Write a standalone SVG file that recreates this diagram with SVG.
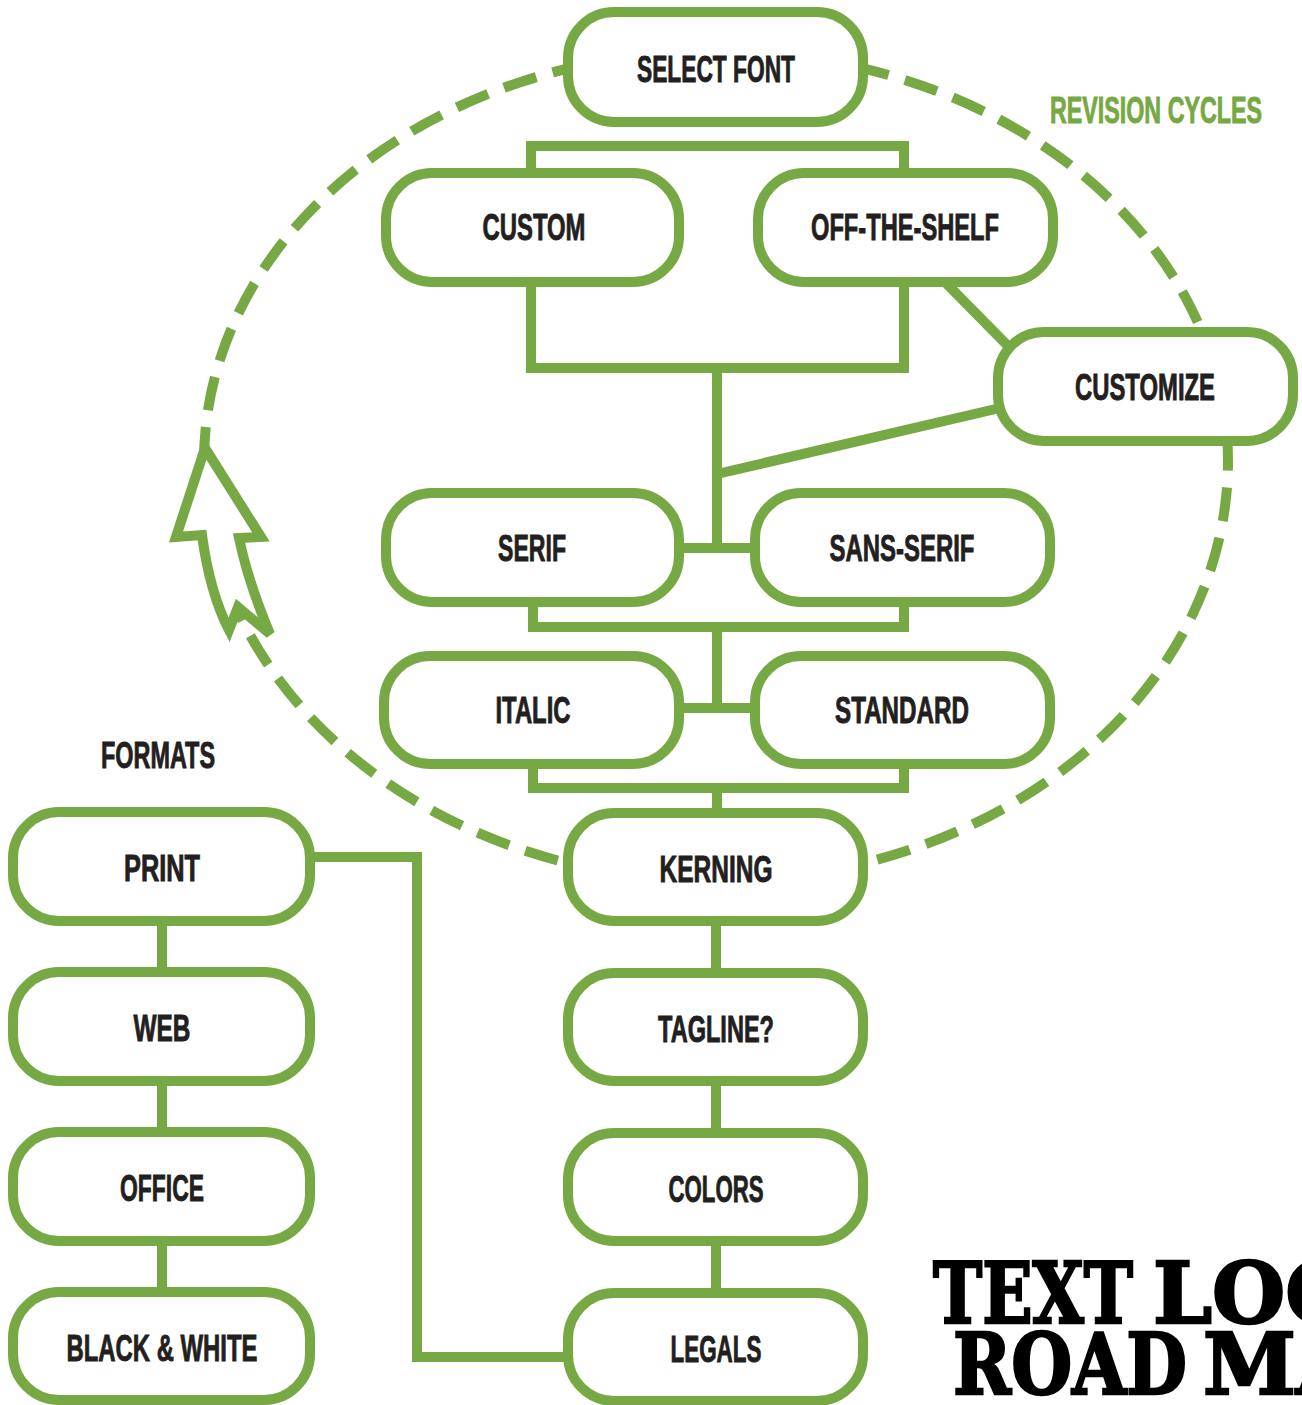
<svg xmlns="http://www.w3.org/2000/svg" width="1302" height="1405" viewBox="0 0 1302 1405">
<style>
.box{fill:#fff;stroke:#76a844;stroke-width:10}
.ln{fill:none;stroke:#76a844;stroke-width:10;stroke-linejoin:miter;stroke-linecap:butt}
.dash{fill:none;stroke:#76a844;stroke-width:10;stroke-dasharray:34 17}
.t{font-family:"Liberation Sans Narrow","Liberation Sans",Arial,sans-serif;font-weight:bold;font-size:37px;fill:#231f20;stroke:#231f20;stroke-width:0.9;text-anchor:middle}
.lbl{font-family:"Liberation Sans Narrow","Liberation Sans",Arial,sans-serif;font-weight:bold;font-size:36px;stroke-width:0.9}
.title{font-family:"DejaVu Serif","Liberation Serif",serif;font-weight:bold;font-size:84px;fill:#000;stroke:#000;stroke-width:2.5}
</style>
<rect width="1302" height="1405" fill="#fff"/>
<g id="revision-cycle">
<path class="dash" d="M 204 461 A 512 410 0 0 1 1228 461 A 512 420 0 0 1 204 461"/>
<path class="box" d="M 205 448 L 176 537 L 202 535 C 207 572 215 603 229 630 L 238 607 L 270 634 C 257 603 246 572 239 538 L 261 537 Z"/>
</g>
<g id="connectors">
<path class="ln" d="M 531 173 V 146 H 904 V 173"/>
<path class="ln" d="M 531 282 V 368 H 904 V 282"/>
<path class="ln" d="M 717 368 V 548"/>
<path class="ln" d="M 679 548 H 755"/>
<path class="ln" d="M 942 279 L 1010 348"/>
<path class="ln" d="M 717 474 L 1000 408"/>
<path class="ln" d="M 533 602 V 627 H 904 V 602"/>
<path class="ln" d="M 717 627 V 708"/>
<path class="ln" d="M 679 708 H 755"/>
<path class="ln" d="M 533 764 V 788 H 904 V 764"/>
<path class="ln" d="M 717 788 V 813"/>
<path class="ln" d="M 716 921 V 973 M 716 1081 V 1133 M 716 1241 V 1293"/>
<path class="ln" d="M 162 921 V 972 M 162 1081 V 1132 M 162 1241 V 1292"/>
<path class="ln" d="M 308 857 H 417 V 1357 H 568"/>
</g>
<g id="select-font"><rect class="box" x="568" y="12" width="295" height="110" rx="46"/><text class="t" x="716" y="82" textLength="158" lengthAdjust="spacingAndGlyphs">SELECT FONT</text></g>
<g id="custom"><rect class="box" x="386" y="173" width="293" height="109" rx="46"/><text class="t" x="534" y="240" textLength="103" lengthAdjust="spacingAndGlyphs">CUSTOM</text></g>
<g id="off-the-shelf"><rect class="box" x="758" y="173" width="295" height="109" rx="46"/><text class="t" x="905" y="240" textLength="188" lengthAdjust="spacingAndGlyphs">OFF-THE-SHELF</text></g>
<g id="customize"><rect class="box" x="998" y="332" width="295" height="109" rx="46"/><text class="t" x="1145" y="400" textLength="140" lengthAdjust="spacingAndGlyphs">CUSTOMIZE</text></g>
<g id="serif"><rect class="box" x="386" y="493" width="293" height="109" rx="46"/><text class="t" x="532" y="561" textLength="68" lengthAdjust="spacingAndGlyphs">SERIF</text></g>
<g id="sans-serif"><rect class="box" x="755" y="493" width="295" height="109" rx="46"/><text class="t" x="902" y="561" textLength="145" lengthAdjust="spacingAndGlyphs">SANS-SERIF</text></g>
<g id="italic"><rect class="box" x="384" y="656" width="295" height="108" rx="46"/><text class="t" x="533" y="723" textLength="75" lengthAdjust="spacingAndGlyphs">ITALIC</text></g>
<g id="standard"><rect class="box" x="755" y="656" width="295" height="108" rx="46"/><text class="t" x="902" y="723" textLength="134" lengthAdjust="spacingAndGlyphs">STANDARD</text></g>
<g id="kerning"><rect class="box" x="568" y="813" width="295" height="108" rx="46"/><text class="t" x="716" y="882" textLength="113" lengthAdjust="spacingAndGlyphs">KERNING</text></g>
<g id="tagline"><rect class="box" x="568" y="973" width="295" height="108" rx="46"/><text class="t" x="716" y="1042" textLength="116" lengthAdjust="spacingAndGlyphs">TAGLINE?</text></g>
<g id="colors"><rect class="box" x="568" y="1133" width="295" height="108" rx="46"/><text class="t" x="716" y="1202" textLength="95" lengthAdjust="spacingAndGlyphs">COLORS</text></g>
<g id="legals"><rect class="box" x="568" y="1293" width="295" height="108" rx="46"/><text class="t" x="716" y="1362" textLength="91" lengthAdjust="spacingAndGlyphs">LEGALS</text></g>
<g id="print"><rect class="box" x="13" y="812" width="297" height="109" rx="46"/><text class="t" x="162" y="881" textLength="76" lengthAdjust="spacingAndGlyphs">PRINT</text></g>
<g id="web"><rect class="box" x="13" y="972" width="297" height="109" rx="46"/><text class="t" x="162" y="1041" textLength="57" lengthAdjust="spacingAndGlyphs">WEB</text></g>
<g id="office"><rect class="box" x="13" y="1132" width="297" height="109" rx="46"/><text class="t" x="162" y="1201" textLength="84" lengthAdjust="spacingAndGlyphs">OFFICE</text></g>
<g id="black-white"><rect class="box" x="13" y="1292" width="297" height="108" rx="46"/><text class="t" x="162" y="1361" textLength="191" lengthAdjust="spacingAndGlyphs">BLACK &amp; WHITE</text></g>
<text class="lbl" x="1050" y="123" fill="#76a844" stroke="#76a844" textLength="212" lengthAdjust="spacingAndGlyphs">REVISION CYCLES</text>
<text class="lbl" x="101" y="768" fill="#231f20" stroke="#231f20" font-size="35" textLength="114" lengthAdjust="spacingAndGlyphs">FORMATS</text>
<g id="title">
<text class="title" x="933" y="1323" textLength="200" lengthAdjust="spacingAndGlyphs">TEXT</text>
<text class="title" x="1153" y="1323">LOG</text>
<text class="title" x="953" y="1394" textLength="234" lengthAdjust="spacingAndGlyphs">ROAD</text>
<text class="title" x="1203" y="1394">MA</text>
</g>
</svg>
